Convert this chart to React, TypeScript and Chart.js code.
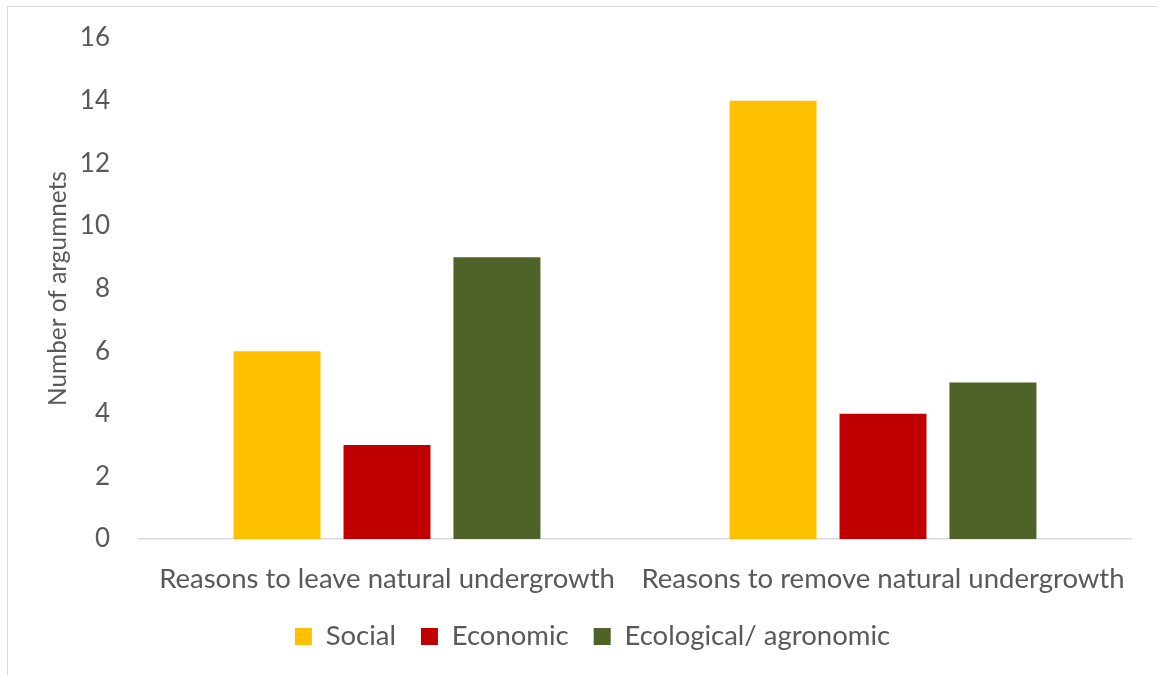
import React, { useEffect, useRef } from "react";
import { Chart, registerables } from "chart.js";

Chart.register(...registerables);

// Categories and argument counts per type
const categories = [
  "Reasons to leave natural undergrowth",
  "Reasons to remove natural undergrowth",
];
const seriesNames = ["Social", "Economic", "Ecological/ agronomic"];
const socialCounts = [6, 14];
const economicCounts = [3, 4];
const ecologicalCounts = [9, 5];
const yMin = 0;
const yMax = 16;
const yStep = 2;
const yTitle = "Number of argumnets";

const seriesColors = ["#FFC000", "#C00000", "#4F6228"];
const textColor = "#595959";
const fontFamily = "Lato, 'Open Sans', sans-serif";

export default function App() {
  const canvasRef = useRef<HTMLCanvasElement | null>(null);

  useEffect(() => {
    const canvas = canvasRef.current;
    if (!canvas) return;
    const values = [socialCounts, economicCounts, ecologicalCounts];
    const chart = new Chart(canvas, {
      type: "bar",
      data: {
        labels: categories,
        datasets: seriesNames.map((name, i) => ({
          label: name,
          data: values[i],
          backgroundColor: seriesColors[i],
          borderWidth: 0,
          categoryPercentage: 0.665,
          barPercentage: 0.791,
        })),
      },
      options: {
        responsive: false,
        animation: false,
        layout: { padding: { left: 54, right: 26, top: 38, bottom: 14.75 } },
        plugins: {
          tooltip: { enabled: false },
          legend: {
            position: "bottom",
            labels: {
              boxWidth: 17,
              boxHeight: 17,
              padding: 25,
              color: textColor,
              font: { family: fontFamily, size: 27.5 },
            },
          },
        },
        scales: {
          x: {
            grid: { display: false, drawTicks: false },
            border: { display: true, color: "#d9d9d9", width: 1.5 },
            ticks: {
              color: textColor,
              padding: 24,
              maxRotation: 0,
              autoSkip: false,
              font: { family: fontFamily, size: 27.5 },
            },
            afterFit: (s: any) => {
              s.height = 58.75;
            },
          },
          y: {
            min: yMin,
            max: yMax,
            grid: { display: false, drawTicks: false },
            border: { display: false },
            ticks: {
              stepSize: yStep,
              color: textColor,
              padding: 29,
              font: { family: fontFamily, size: 26, lineHeight: 0.6 },
            },
            title: {
              display: true,
              text: yTitle,
              color: textColor,
              padding: { top: -10.6, bottom: 0 },
              font: { family: fontFamily, size: 24.4 },
            },
            afterFit: (s: any) => {
              s.width = 85;
            },
          },
        },
      },
    });
    return () => chart.destroy();
  }, []);

  return (
    <div
      style={{
        position: "fixed",
        left: 0,
        top: 0,
        width: 1157,
        height: 675,
        overflow: "hidden",
        background: "#ffffff",
      }}
    >
      <div
        style={{
          position: "absolute",
          left: 7,
          top: 6,
          width: 1250,
          height: 750,
          border: "1px solid #d9d9d9",
        }}
      />
      <canvas
        ref={canvasRef}
        width={1157}
        height={675}
        style={{ position: "absolute", left: 0, top: 0, width: 1157, height: 675 }}
      />
    </div>
  );
}
